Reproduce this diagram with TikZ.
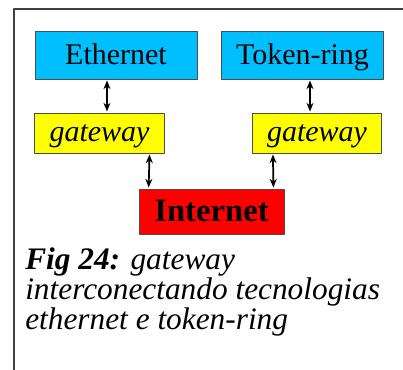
\documentclass[tikz,border=0pt]{standalone}
\usepackage{fontspec}
\setmainfont{Liberation Serif}
\usetikzlibrary{positioning,arrows.meta,calc}
\definecolor{netblue}{RGB}{0,191,255}
\definecolor{gwyellow}{RGB}{255,255,0}
\definecolor{inetred}{RGB}{255,0,0}

\begin{document}
\begin{tikzpicture}[
    x=0.75pt, y=-0.75pt,
    line join=round,
    >={Stealth[length=6.5pt,width=5.2pt]},
    every node/.style={inner sep=0pt},
    bigtext/.style={font=\fontsize{22.5}{19.5}\selectfont},
    netbox/.style={draw=black!70, line width=0.6pt, fill=netblue, bigtext,
        minimum width=121.5pt, minimum height=36pt, text height=15pt, text depth=0pt},
    gwbox/.style={draw=black!70, line width=0.6pt, fill=gwyellow,
        font=\fontsize{22.5}{19.5}\selectfont\itshape,
        minimum width=97pt, minimum height=30pt, text height=13.5pt, text depth=0pt},
    inetbox/.style={draw=black!70, line width=0.6pt, fill=inetred,
        font=\fontsize{24.5}{19.5}\selectfont\bfseries,
        minimum width=108.75pt, minimum height=33.75pt, text height=15.75pt, text depth=0pt},
    link/.style={<->, line width=1.3pt, shorten <=0.8pt, shorten >=0.8pt}
]
\useasboundingbox (0,0) rectangle (403,370);

% figure frame
\draw[black!75, line width=0.8pt] (403,9) -- (14,9) -- (14,370);

% networks
\node[netbox] (eth) at (116,55) {Ethernet};
\node[netbox] (tok) at (302.5,55) {Token-ring};

% gateways
\node[gwbox] (gwL) at (99.5,133) {gateway};
\node[gwbox] (gwR) at (317,133) {gateway};

% internet
\node[inetbox] (inet) at (211.5,211.5) {Internet};

% links
\draw[link] ([xshift=-6.75pt]eth.south) -- ([xshift=5.6pt]gwL.north);
\draw[link] ([xshift=5.6pt]tok.south) -- ([xshift=-5.25pt]gwR.north);
\draw[link] ([xshift=-11.25pt]gwL.south east) -- ([xshift=7.5pt]inet.north west);
\draw[link] ([xshift=15.75pt]gwR.south west) -- ([xshift=-8.25pt]inet.north east);

% caption
\node[font=\fontsize{23.5}{19.5}\selectfont\itshape, anchor=base west, align=left] (cap) at (25,329)
    {\textbf{Fig 24:} gateway\\interconectando tecnologias\\ethernet e token-ring};

\end{tikzpicture}
\end{document}
